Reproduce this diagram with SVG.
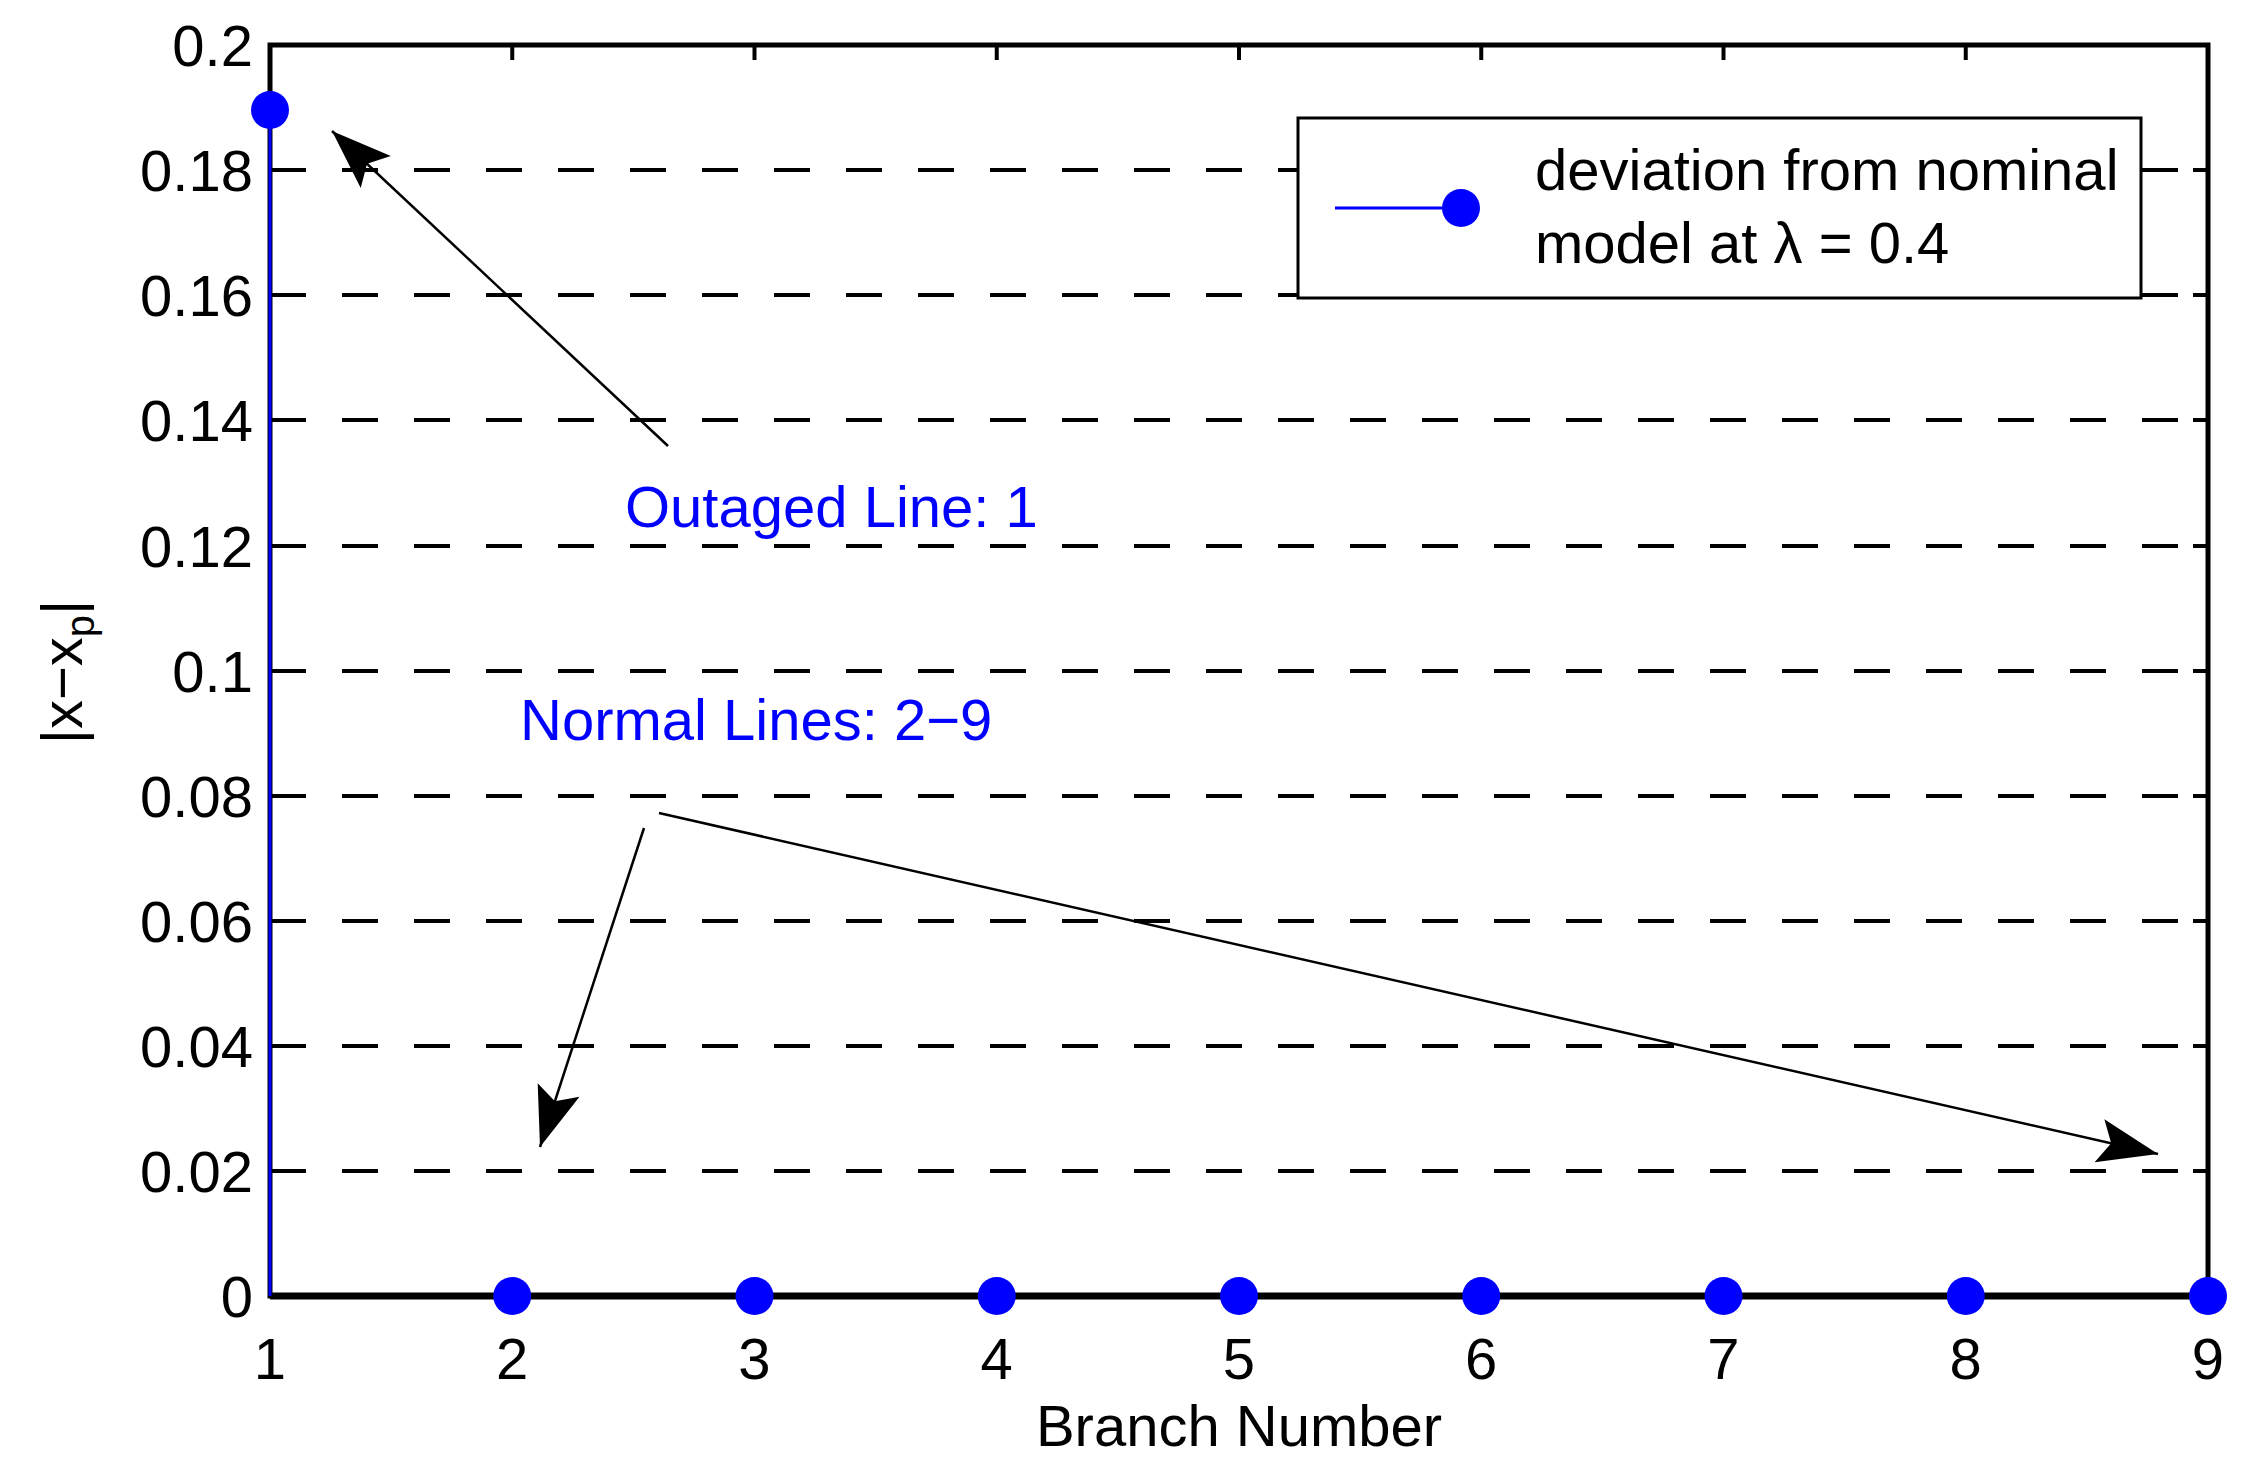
<svg xmlns="http://www.w3.org/2000/svg" width="2254" height="1467" viewBox="0 0 2254 1467">
<style>
text{font-family:"Liberation Sans",Arial,sans-serif;font-size:58px;fill:#000}
.yl{text-anchor:end}
.xl{text-anchor:middle}
.grid{stroke:#000;stroke-width:4;stroke-dasharray:36 36}
.tick{stroke:#000;stroke-width:4}
.dot{fill:#0000ff}
.ann{stroke:#000;stroke-width:2.5;fill:none;marker-end:url(#ah)}
.blue{fill:#0000ff}
</style>
<defs>
<marker id="ah" viewBox="0 0 20 16" refX="20" refY="8" markerWidth="20" markerHeight="16" markerUnits="userSpaceOnUse" orient="auto" overflow="visible">
<path d="M-40,-14 L20,8 L-40,30 L-28,8 Z" fill="#000"/>
</marker>
</defs>
<rect width="2254" height="1467" fill="#fff"/>
<g id="grid">
<line class="grid" x1="270" y1="170" x2="2208" y2="170"/>
<line class="grid" x1="270" y1="295" x2="2208" y2="295"/>
<line class="grid" x1="270" y1="420" x2="2208" y2="420"/>
<line class="grid" x1="270" y1="546" x2="2208" y2="546"/>
<line class="grid" x1="270" y1="671" x2="2208" y2="671"/>
<line class="grid" x1="270" y1="796" x2="2208" y2="796"/>
<line class="grid" x1="270" y1="921" x2="2208" y2="921"/>
<line class="grid" x1="270" y1="1046" x2="2208" y2="1046"/>
<line class="grid" x1="270" y1="1171" x2="2208" y2="1171"/>
</g>
<g id="axes">
<rect x="270" y="45" width="1938" height="1251" fill="none" stroke="#000" stroke-width="5"/>
<line x1="270" y1="1296" x2="2208" y2="1296" stroke="#000" stroke-width="7"/>
<path class="tick" d="M512.25,45v15M754.5,45v15M996.75,45v15M1239,45v15M1481.25,45v15M1723.5,45v15M1965.75,45v15M512.25,1296v-15M754.5,1296v-15M996.75,1296v-15M1239,1296v-15M1481.25,1296v-15M1723.5,1296v-15M1965.75,1296v-15"/>
<path class="tick" d="M270,170h15M270,295h15M270,420h15M270,546h15M270,671h15M270,796h15M270,921h15M270,1046h15M270,1171h15M2208,170h-15M2208,295h-15M2208,420h-15M2208,546h-15M2208,671h-15M2208,796h-15M2208,921h-15M2208,1046h-15M2208,1171h-15"/>
<text class="yl" x="253" y="66">0.2</text>
<text class="yl" x="253" y="191">0.18</text>
<text class="yl" x="253" y="316">0.16</text>
<text class="yl" x="253" y="441">0.14</text>
<text class="yl" x="253" y="567">0.12</text>
<text class="yl" x="253" y="692">0.1</text>
<text class="yl" x="253" y="817">0.08</text>
<text class="yl" x="253" y="942">0.06</text>
<text class="yl" x="253" y="1067">0.04</text>
<text class="yl" x="253" y="1192">0.02</text>
<text class="yl" x="253" y="1317">0</text>
<text class="xl" x="270" y="1379">1</text>
<text class="xl" x="512.25" y="1379">2</text>
<text class="xl" x="754.5" y="1379">3</text>
<text class="xl" x="996.75" y="1379">4</text>
<text class="xl" x="1239" y="1379">5</text>
<text class="xl" x="1481.25" y="1379">6</text>
<text class="xl" x="1723.5" y="1379">7</text>
<text class="xl" x="1965.75" y="1379">8</text>
<text class="xl" x="2208" y="1379">9</text>
<text class="xl" x="1239" y="1446">Branch Number</text>
<text class="xl" transform="translate(82,672) rotate(-90)">|x−x<tspan font-size="40" dy="12">p</tspan><tspan dy="-12">|</tspan></text>
</g>
<g id="data">
<line x1="270" y1="1296" x2="270" y2="108" stroke="#0000ff" stroke-width="3"/>
<circle class="dot" cx="270" cy="110" r="19"/>
<circle class="dot" cx="512.25" cy="1296" r="19"/>
<circle class="dot" cx="754.5" cy="1296" r="19"/>
<circle class="dot" cx="996.75" cy="1296" r="19"/>
<circle class="dot" cx="1239" cy="1296" r="19"/>
<circle class="dot" cx="1481.25" cy="1296" r="19"/>
<circle class="dot" cx="1723.5" cy="1296" r="19"/>
<circle class="dot" cx="1965.75" cy="1296" r="19"/>
<circle class="dot" cx="2208" cy="1296" r="19"/>
</g>
<g id="legend">
<rect x="1298" y="118" width="843" height="180" fill="#fff" stroke="#000" stroke-width="3"/>
<line x1="1335" y1="208" x2="1461" y2="208" stroke="#0000ff" stroke-width="3"/>
<circle class="dot" cx="1461" cy="208" r="19"/>
<text x="1535" y="190">deviation from nominal</text>
<text x="1535" y="263">model at λ = 0.4</text>
</g>
<g id="labels">
<text class="blue" x="625" y="527">Outaged Line: 1</text>
<text class="blue" x="520" y="740">Normal Lines: 2−9</text>
</g>
<g id="connectors">
<line class="ann" x1="668" y1="446" x2="332" y2="131"/>
<line class="ann" x1="644" y1="828" x2="540" y2="1147"/>
<line class="ann" x1="659" y1="813" x2="2158" y2="1154"/>
</g>
</svg>
